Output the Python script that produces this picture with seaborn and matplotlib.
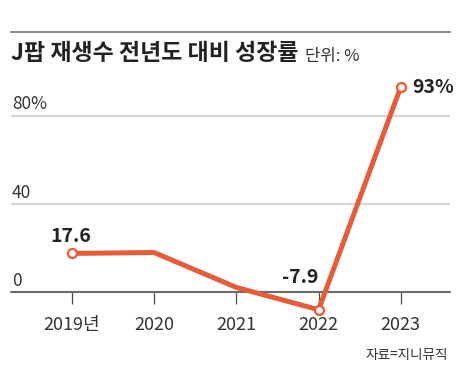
import matplotlib
matplotlib.use("Agg")
import matplotlib.pyplot as plt
import matplotlib.transforms as mtransforms
from matplotlib.lines import Line2D
import seaborn as sns
import pandas as pd

# ---- data ----
years = ["2019년", "2020", "2021", "2022", "2023"]
growth = [17.6, 18.0, 2.2, -7.9, 93.0]
marked_idx = [0, 3, 4]
label_text = {0: "17.6", 3: "-7.9", 4: "93%"}
y_ticks = [0, 40, 80]
y_tick_labels = ["0", "40", "80%"]
title = "J팝 재생수 전년도 대비 성장률"
unit = "단위: %"
source = "자료=지니뮤직"

sns.set_theme(style="white")
NUM = ["Noto Sans CJK KR", "DejaVu Sans"]
KR = ["Noto Sans CJK KR", "DejaVu Sans"]
plt.rcParams["font.family"] = NUM

W, H = 457, 371
fig = plt.figure(figsize=(W / 100, H / 100), dpi=100)
fig.patch.set_facecolor("white")

def fy(px):
    return 1 - px / H

# axes placement (pixel based)
ax_left, ax_right = 11, 450
ax_top, ax_bot = 71.5, 327.6
ax = fig.add_axes([ax_left / W, fy(ax_bot), (ax_right - ax_left) / W, (ax_bot - ax_top) / H])
ax.set_facecolor("white")

df = pd.DataFrame({"pos": range(len(years)), "growth": growth})
color = "#E65C38"
sns.lineplot(data=df, x="pos", y="growth", ax=ax, color=color, lw=3.6,
             marker="o", markevery=marked_idx, markersize=6.5,
             markerfacecolor="#fff4f0", markeredgecolor=color, markeredgewidth=1.6,
             solid_joinstyle="miter", clip_on=False, zorder=5)

ax.set_xlim(-0.742, 4.599)
ax.set_ylim(-16, 100)
ax.set_xlabel("")
ax.set_ylabel("")

# grid
ax.set_yticks(y_ticks)
ax.yaxis.grid(True, color="#d6d6d6", lw=1.6)
ax.tick_params(axis="y", length=0, labelleft=False)
for s in ["top", "right", "left"]:
    ax.spines[s].set_visible(False)
ax.spines["bottom"].set_position(("data", 0))
ax.spines["bottom"].set_color("#4a4a4a")
ax.spines["bottom"].set_linewidth(1.1)
ax.spines["bottom"].set_zorder(3)

ax.set_xticks(range(len(years)))
ax.set_xticklabels(years, fontsize=13, color="#333333", family=NUM)
ax.tick_params(axis="x", direction="out", length=8.6, width=0.9, color="#4a4a4a",
               pad=8.5, bottom=True)

# y labels above grid lines
trans = mtransforms.blended_transform_factory(ax.transAxes, ax.transData)
for v, t in zip(y_ticks, y_tick_labels):
    ax.annotate(t, xy=(0, v), xycoords=trans, xytext=(0.8, 4.6),
                textcoords="offset points", ha="left", va="baseline",
                fontsize=12.5, color="#333333")

# value labels
offsets = {0: ((-1, 8.5), "center"), 3: ((0, 19), "right"), 4: ((8.5, -4.2), "left")}
for i, t in label_text.items():
    (dx, dy), ha = offsets[i]
    ax.annotate(t, xy=(i, growth[i]), xytext=(dx, dy), textcoords="offset points",
                ha=ha, va="baseline", fontsize=14, fontweight="semibold", color="#222222")

# title & notes
fig.add_artist(Line2D([ax_left / W, ax_right / W], [fy(31.7), fy(31.7)],
                      color="#8c8c8c", lw=1.5))
fig.text(ax_left / W, fy(60), title, family=KR, fontweight="bold", fontsize=16.5,
         color="#222222", va="baseline", ha="left")
fig.text(305 / W, fy(61), unit, family=KR, fontsize=12, color="#333333",
         va="baseline", ha="left")
fig.text(448 / W, fy(359), source, family=KR, fontsize=9.8, color="#333333",
         va="baseline", ha="right")

fig.savefig("out.png", dpi=100, facecolor="white")
